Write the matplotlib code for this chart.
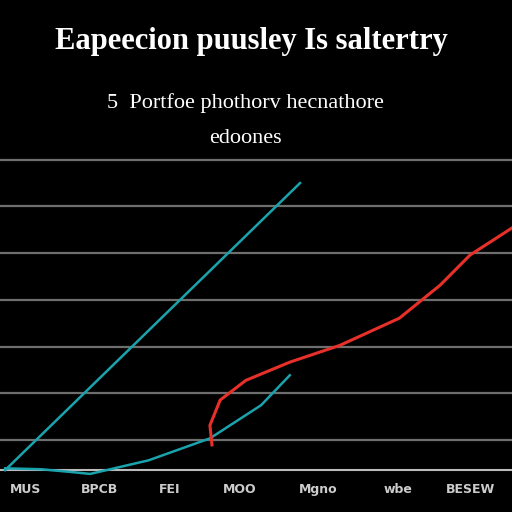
import matplotlib.pyplot as plt

# values (x in 0..10, y in grid units)
cyan_straight_x = [0.1, 5.86]
cyan_straight_y = [-0.64, 5.5]

cyan_curve_x = [0.1, 0.8, 1.4, 1.76, 2.9, 4.1, 5.1, 5.66]
cyan_curve_y = [-0.6, -0.62, -0.68, -0.72, -0.43, 0.04, 0.75, 1.39]

red_x = [4.14, 4.1, 4.3, 4.8, 5.66, 6.64, 7.8, 8.6, 9.18, 10.0]
red_y = [-0.1, 0.32, 0.86, 1.28, 1.67, 2.03, 2.61, 3.32, 3.96, 4.54]

tick_pos = [0.49, 1.95, 3.32, 4.69, 6.21, 7.77, 9.18]
tick_labels = ["MUS", "BPCB", "FEI", "MOO", "Mgno", "wbe", "BESEW"]

fig = plt.figure(figsize=(5.12, 5.12), dpi=100, facecolor="black")
ax = fig.add_axes([0, 0.0625, 1, 0.664], facecolor="black")

for g in range(0, 7):
    ax.axhline(g, color="#6e6e6e", lw=1.6)
ax.axhline(-0.64, color="#bbbbbb", lw=1.5)

ax.plot(cyan_straight_x, cyan_straight_y, color="#1aa3ad", lw=1.8)
ax.plot(cyan_curve_x, cyan_curve_y, color="#1aa3ad", lw=1.8)
ax.plot(red_x, red_y, color="#e8302a", lw=2.2)

ax.set_xlim(0, 10)
ax.set_ylim(-0.85, 6.42)
ax.set_yticks([])
ax.set_xticks(tick_pos)
ax.set_xticklabels(tick_labels, color="#dddddd", fontsize=9, fontweight="bold")
ax.tick_params(axis="x", colors="#cccccc", length=0, pad=2)
for s in ax.spines.values():
    s.set_visible(False)

fig.text(0.49, 0.905, "Eapeecion puusley Is saltertry", color="white",
         fontsize=22, fontweight="bold", family="Liberation Serif", ha="center")
fig.text(0.48, 0.79, "5  Portfoe phothorv hecnathore", color="white",
         fontsize=16, family="Liberation Serif", ha="center")
fig.text(0.48, 0.72, "edoones", color="white",
         fontsize=16, family="Liberation Serif", ha="center")

fig.savefig("out.png", dpi=100, facecolor="black")
